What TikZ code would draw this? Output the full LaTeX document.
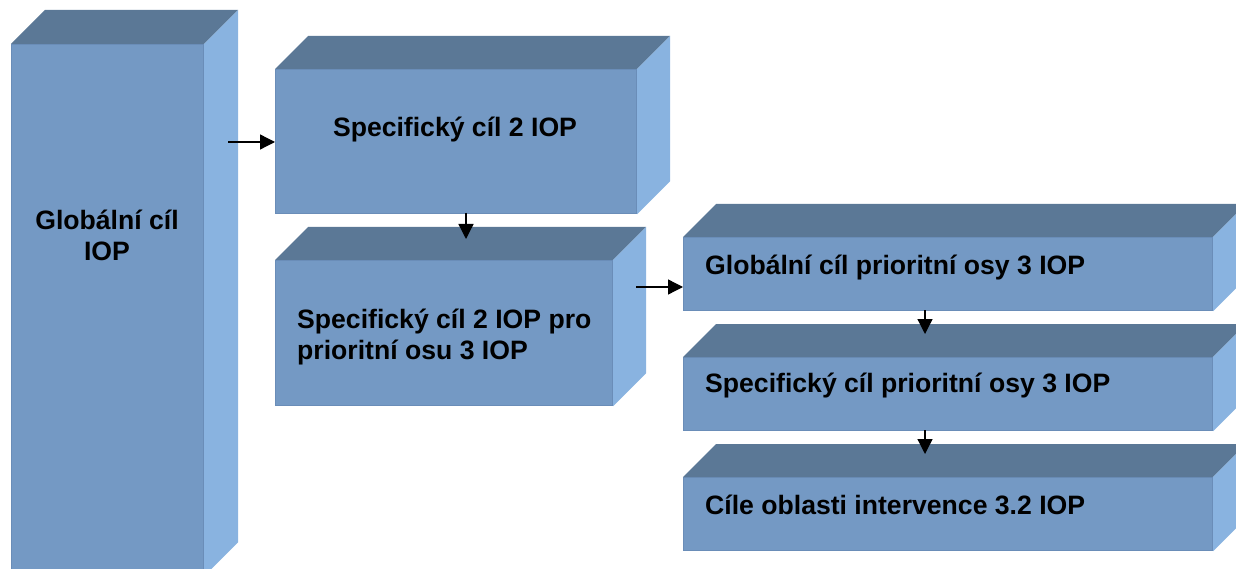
\documentclass[tikz,border=0pt]{standalone}
\usepackage{fontspec}
\setmainfont{Liberation Sans}
\usetikzlibrary{arrows.meta,calc}
\definecolor{frontc}{HTML}{7499C4}
\definecolor{topc}{HTML}{5B7896}
\definecolor{sidec}{HTML}{89B3E0}
\definecolor{edgec}{HTML}{6A8DB8}
\tikzset{
  front/.style={draw=edgec, line width=1.2pt, fill=frontc, rectangle, inner sep=0pt, anchor=north west},
  topface/.style={fill=topc},
  sideface/.style={fill=sidec},
  lbl/.style={font=\fontsize{26.6}{31}\selectfont\bfseries, inner sep=0pt},
  arr/.style={-{Triangle[length=15pt,width=15pt]}, line width=1.3pt, black}
}
\newcommand{\boxdepth}[2]{%
  \fill[topface] (#1.north west) -- ++(#2,#2) -- ($(#1.north east)+(#2,#2)$) -- (#1.north east) -- cycle;
  \fill[sideface] (#1.north east) -- ++(#2,#2) -- ($(#1.south east)+(#2,#2)$) -- (#1.south east) -- cycle;
}
\begin{document}
\begin{tikzpicture}[x=1pt,y=1pt]
\useasboundingbox (0,0) rectangle (1236,-569);
\clip (0,0) rectangle (1236,-569);
% front faces
\node[front, minimum width=192pt, minimum height=531pt] (big) at (11,-44) {};
\node[front, minimum width=361pt, minimum height=144pt] (b2) at (275,-69) {};
\node[front, minimum width=337pt, minimum height=145pt] (b3) at (275,-260) {};
\node[front, minimum width=529pt, minimum height=73pt] (b4) at (683,-237) {};
\node[front, minimum width=529pt, minimum height=73pt] (b5) at (683,-357) {};
\node[front, minimum width=529pt, minimum height=73pt] (b6) at (683,-477) {};
% depth faces
\boxdepth{big}{34}
\boxdepth{b2}{33}
\boxdepth{b3}{33}
\boxdepth{b4}{33}
\boxdepth{b5}{33}
\boxdepth{b6}{33}
% labels
\node[lbl, align=center] (t1) at (107,-235) {Globální cíl\\IOP};
\node[lbl] (t2) at (455,-130) {Specifický cíl 2 IOP};
\node[lbl, align=left, anchor=west] (t3) at (297,-337) {Specifický cíl 2 IOP pro\\prioritní osu 3 IOP};
\node[lbl, anchor=west] (t4) at (705,-268) {Globální cíl prioritní osy 3 IOP};
\node[lbl, anchor=west] (t5) at (705,-386) {Specifický cíl prioritní osy 3 IOP};
\node[lbl, anchor=west] (t6) at (705,-505) {Cíle oblasti intervence 3.2 IOP};
% arrows
\coordinate (a1) at (228,-142);
\draw[arr] (a1) -- (a1 -| b2.west);
\coordinate (a2) at (466,-213);
\coordinate (a2e) at (466,-239);
\draw[arr] (a2) -- (a2e);
\coordinate (a3) at (636,-287);
\draw[arr] (a3) -- (a3 -| b4.west);
\coordinate (a4) at (925,-310);
\coordinate (a4e) at (925,-334);
\draw[arr] (a4) -- (a4e);
\coordinate (a5) at (925,-430);
\coordinate (a5e) at (925,-454);
\draw[arr] (a5) -- (a5e);
\end{tikzpicture}
\end{document}
